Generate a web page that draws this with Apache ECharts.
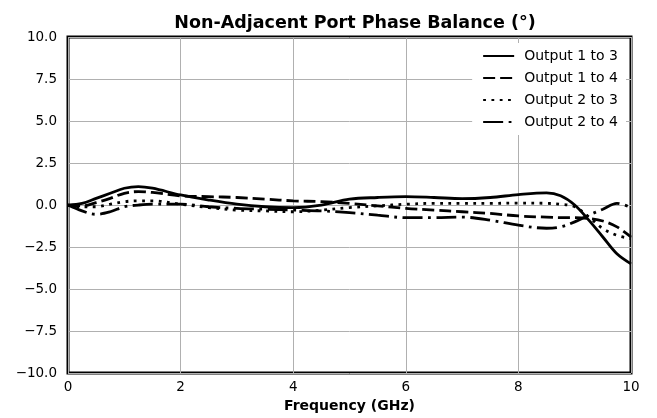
<!DOCTYPE html>
<html><head><meta charset="utf-8">
<script src="https://cdn.jsdelivr.net/npm/echarts@6/dist/echarts.min.js"></script>
<style>html,body{margin:0;padding:0;background:#fff}#c{width:657px;height:418px}</style>
</head><body><div id="c"></div>
<script>
const title = 'Non-Adjacent Port Phase Balance (°)';
const xName = 'Frequency (GHz)';
const freqs = [0,0.25,0.5,0.75,1,1.25,1.5,2,2.5,3,3.5,4,4.5,5,5.5,6,6.5,7,7.5,8,8.5,8.75,9,9.25,9.5,9.75,10];
const seriesNames = ['Output 1 to 3','Output 1 to 4','Output 2 to 3','Output 2 to 4'];
const out13 = [0,0.1,0.4,0.7,1.0,1.1,1.0,0.6,0.3,0.05,-0.1,-0.15,0.0,0.35,0.45,0.5,0.45,0.38,0.45,0.62,0.72,0.55,0.0,-0.9,-1.9,-2.9,-3.5];
const out14 = [0,-0.05,0.15,0.4,0.7,0.8,0.75,0.55,0.5,0.45,0.35,0.25,0.2,0.1,-0.05,-0.2,-0.3,-0.4,-0.5,-0.65,-0.72,-0.75,-0.75,-0.8,-0.95,-1.3,-1.9];
const out23 = [0,-0.1,-0.1,0.05,0.2,0.25,0.25,0.05,-0.15,-0.3,-0.35,-0.4,-0.3,-0.15,-0.05,0.05,0.1,0.1,0.1,0.12,0.1,0.05,-0.1,-0.7,-1.4,-1.8,-2.0];
const out24 = [0,-0.35,-0.55,-0.4,-0.1,0.0,0.05,0.05,-0.1,-0.2,-0.25,-0.3,-0.35,-0.45,-0.6,-0.75,-0.75,-0.72,-0.9,-1.2,-1.38,-1.3,-1.0,-0.6,-0.25,0.1,-0.15];
const dashes = ['solid',[12,5],[2.8,5.5],[20,5.5,2.8,5.5]];
const values = [out13,out14,out23,out24];

const chart = echarts.init(document.getElementById('c'));
const font = 'DejaVu Sans';
chart.setOption({
  animation:false,
  textStyle:{fontFamily:font},
  title:{text:title,left:350,textAlign:'center',top:9,textStyle:{fontFamily:font,fontSize:17.5,fontWeight:'bold',color:'#000'}},
  grid:{left:68,right:26,top:37,bottom:42,show:true,borderColor:'#000',borderWidth:3,backgroundColor:'transparent'},
  legend:{
    right:31,top:43,orient:'vertical',itemGap:8,itemWidth:31,itemHeight:14,
    backgroundColor:'#fff',padding:[6,8,6,10],
    itemStyle:{opacity:0},
    textStyle:{fontFamily:font,fontSize:14,color:'#000',padding:[0,0,0,5]},
    data:seriesNames
  },
  xAxis:{type:'value',min:0,max:10,interval:2,
    name:xName,nameLocation:'middle',nameGap:24,
    nameTextStyle:{fontFamily:font,fontSize:14,fontWeight:'bold',color:'#000'},
    axisLine:{show:false},axisTick:{show:false},
    axisLabel:{fontFamily:font,fontSize:13.5,color:'#000',margin:7},
    splitLine:{show:true,lineStyle:{color:'#b0b0b0',width:1}}},
  yAxis:{type:'value',min:-10,max:10,interval:2.5,
    axisLine:{show:false},axisTick:{show:false},
    axisLabel:{fontFamily:font,fontSize:13.5,color:'#000',margin:11,
      formatter:v=>(v<0?'\u2212':'')+Math.abs(v).toFixed(1)},
    splitLine:{show:true,lineStyle:{color:'#b0b0b0',width:1}}},
  series:seriesNames.map((n,i)=>({
    name:n,type:'line',smooth:0.35,symbol:'none',
    data:freqs.map((f,j)=>[f,values[i][j]]),
    lineStyle:{color:'#000',width:2.8,type:dashes[i]},
    itemStyle:{color:'#000'}
  }))
});
</script></body></html>
